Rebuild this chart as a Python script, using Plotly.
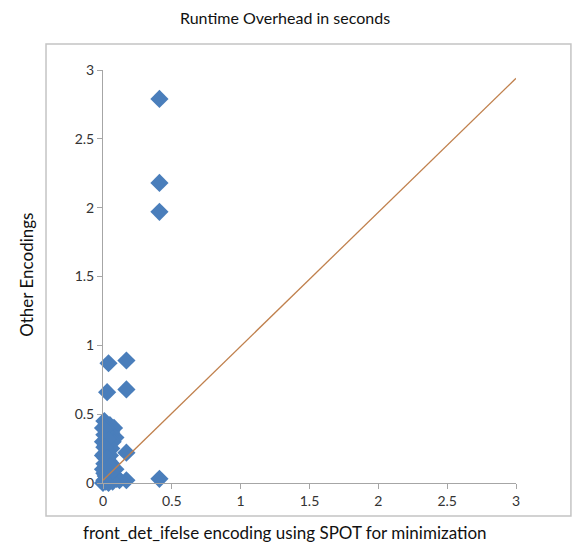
import plotly.graph_objects as go

# Data
x_vals = [0.41, 0.41, 0.41, 0.41,
          0.17, 0.17, 0.17, 0.17,
          0.04, 0.03,
          0.01, 0.05, 0.08, 0.06, 0.09, 0.05, 0.07, 0.04, 0.06, 0.02,
          0.03, 0.01, 0.02, 0.04, 0.01, 0.03, 0.02, 0.05, 0.01, 0.06,
          0.03, 0.08, 0.10, 0.12, 0.02, 0.00, 0.01, 0.04, 0.07, 0.09,
          0.00, 0.00, 0.00, 0.01, 0.02, 0.03, 0.02, 0.05, 0.06, 0.04,
          0.07, 0.00, 0.01, 0.03, 0.05]
y_vals = [2.79, 2.18, 1.97, 0.03,
          0.89, 0.68, 0.22, 0.02,
          0.87, 0.66,
          0.45, 0.42, 0.40, 0.37, 0.33, 0.34, 0.30, 0.28, 0.25, 0.27,
          0.23, 0.21, 0.18, 0.16, 0.14, 0.12, 0.10, 0.08, 0.07, 0.05,
          0.04, 0.06, 0.03, 0.02, 0.01, 0.00, 0.02, 0.00, 0.01, 0.10,
          0.30, 0.20, 0.10, 0.35, 0.40, 0.32, 0.05, 0.20, 0.14, 0.06,
          0.09, 0.40, 0.26, 0.18, 0.12]
line_x = [0.0, 3.0]
line_y = [0.02, 2.94]
tick_vals = [0, 0.5, 1, 1.5, 2, 2.5, 3]
tick_text = ["0", "0.5", "1", "1.5", "2", "2.5", "3"]

FONT = "Lato, Open Sans, sans-serif"
AX = "#a6a6a6"

fig = go.Figure()
fig.add_trace(go.Scatter(x=x_vals, y=y_vals, mode="markers",
                         marker=dict(symbol="diamond", size=14, color="#4a7ebb",
                                     line=dict(width=0)),
                         showlegend=False, cliponaxis=False))
fig.add_trace(go.Scatter(x=line_x, y=line_y, mode="lines",
                         line=dict(color="#c0804d", width=1.3),
                         showlegend=False))

axis_common = dict(range=[0, 3], autorange=False, tickvals=tick_vals, ticktext=tick_text,
                   showgrid=False, zeroline=False, showline=True, linecolor=AX,
                   linewidth=1, ticks="outside", ticklen=5, tickcolor=AX,
                   tickfont=dict(family=FONT, size=14, color="#333333"))

fig.update_layout(
    width=573, height=547,
    margin=dict(l=103, r=57, t=70, b=64),
    plot_bgcolor="white", paper_bgcolor="white",
    xaxis=dict(**axis_common),
    yaxis=dict(**axis_common),
    shapes=[dict(type="rect", xref="paper", yref="paper",
                 x0=-0.138, x1=1.133, y0=-0.080, y1=1.063,
                 line=dict(color="#c4c4c4", width=1.5), layer="below")],
    annotations=[
        dict(text="Runtime Overhead in seconds", x=0.44, y=1.128, xref="paper", yref="paper",
             showarrow=False, font=dict(family=FONT, size=16, color="#111111"),
             xanchor="center", yanchor="middle"),
        dict(text="front_det_ifelse encoding using SPOT for minimization", x=0.44, y=-0.121,
             xref="paper", yref="paper", showarrow=False,
             font=dict(family=FONT, size=17, color="#111111"),
             xanchor="center", yanchor="middle"),
        dict(text="Other Encodings", x=-0.184, y=0.504, xref="paper", yref="paper",
             showarrow=False, textangle=-90,
             font=dict(family=FONT, size=17, color="#111111"),
             xanchor="center", yanchor="middle"),
    ],
)

fig.write_html("out.html")
